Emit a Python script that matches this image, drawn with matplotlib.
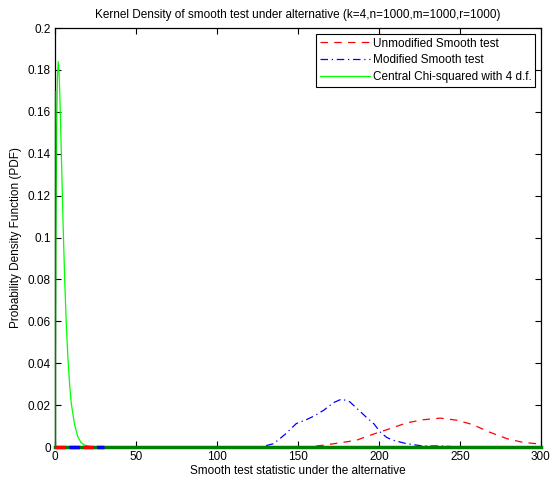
import matplotlib
matplotlib.use("Agg")
import matplotlib.pyplot as plt

# Unmodified smooth test (red dashed)
unmod_x = [0, 155, 165, 176, 186, 196, 207, 217, 227, 238, 248, 258, 268, 279, 289, 300]
unmod_y = [0, 0, 0.0008, 0.002, 0.0032, 0.006, 0.0088, 0.0115, 0.013, 0.0138, 0.0128, 0.0107, 0.0072, 0.004, 0.0022, 0.0014]

# Modified smooth test (blue dash-dot)
mod_x = [0, 127, 135, 142, 149, 155, 160, 166, 172, 177, 182, 187, 192, 197, 201, 205, 209, 217, 227, 238, 250, 300]
mod_y = [0, 0, 0.0016, 0.006, 0.0112, 0.013, 0.0148, 0.0176, 0.0212, 0.0229, 0.0216, 0.018, 0.0144, 0.011, 0.007, 0.0045, 0.0032, 0.0016, 0.0005, 0.0005, 0, 0]

# Central chi-squared with 4 d.f. (green)
chi_x = [0, 0.5, 1, 1.5, 2, 2.5, 3, 4, 5, 6, 7, 8, 9, 10, 12, 14, 16, 18, 22, 26, 300]
chi_y = [0, 0.097, 0.152, 0.177, 0.184, 0.179, 0.167, 0.137, 0.106, 0.079, 0.058, 0.042, 0.03, 0.021, 0.011, 0.005, 0.0022, 0.001, 0.0002, 0, 0]

plt.rcParams['font.family'] = ['Liberation Sans', 'DejaVu Sans']
plt.rcParams['font.size'] = 8.5

fig = plt.figure(figsize=(5.53, 4.84), dpi=100)
ax = fig.add_axes([0.0995, 0.0764, 0.8785, 0.8656])

ax.plot(unmod_x, unmod_y, color='red', ls=(0, (6, 5)), lw=0.9, label='Unmodified Smooth test')
ax.plot(mod_x, mod_y, color='blue', ls=(0, (6, 3, 1, 3)), lw=0.9, label='Modified Smooth test')
ax.plot(chi_x, chi_y, color=(0, 1, 0), lw=0.9, label='Central Chi-squared with 4 d.f.')

# thick baseline where the densities are zero
ax.plot([0, 300], [0, 0], color=(0, 0.5, 0), lw=2.5, zorder=3, clip_on=False)
ax.plot([0, 30], [0, 0], color='red', ls=(0, (3, 5)), lw=2.5, zorder=3, clip_on=False)
ax.plot([0, 30], [0, 0], color='blue', ls=(4, (3, 5)), lw=2.5, zorder=3, clip_on=False)
ax.plot([0, 0], [0, 0.17], color=(0, 0.5, 0), lw=1.0, zorder=3, clip_on=False)

ax.set_xlim(0, 300)
ax.set_ylim(0, 0.2)
ax.set_xticks([0, 50, 100, 150, 200, 250, 300])
ax.set_yticks([0, 0.02, 0.04, 0.06, 0.08, 0.1, 0.12, 0.14, 0.16, 0.18, 0.2])
ax.set_yticklabels(['0', '0.02', '0.04', '0.06', '0.08', '0.1', '0.12', '0.14', '0.16', '0.18', '0.2'])
ax.tick_params(direction='in', top=True, right=True, length=4, width=0.8, pad=3)
for s in ax.spines.values():
    s.set_linewidth(0.9)

ax.set_title('Kernel Density of smooth test under alternative (k=4,n=1000,m=1000,r=1000)', fontsize=8.5, pad=7)
ax.set_xlabel('Smooth test statistic under the alternative', labelpad=1)
ax.set_ylabel('Probability Density Function (PDF)', labelpad=4)

leg = ax.legend(loc='upper right', fancybox=False, framealpha=1, edgecolor='black',
                borderpad=0.3, labelspacing=0.4, handlelength=4.3, handletextpad=0.2,
                borderaxespad=0.5)
leg.get_frame().set_linewidth(0.8)

fig.savefig('out.png', dpi=100)
